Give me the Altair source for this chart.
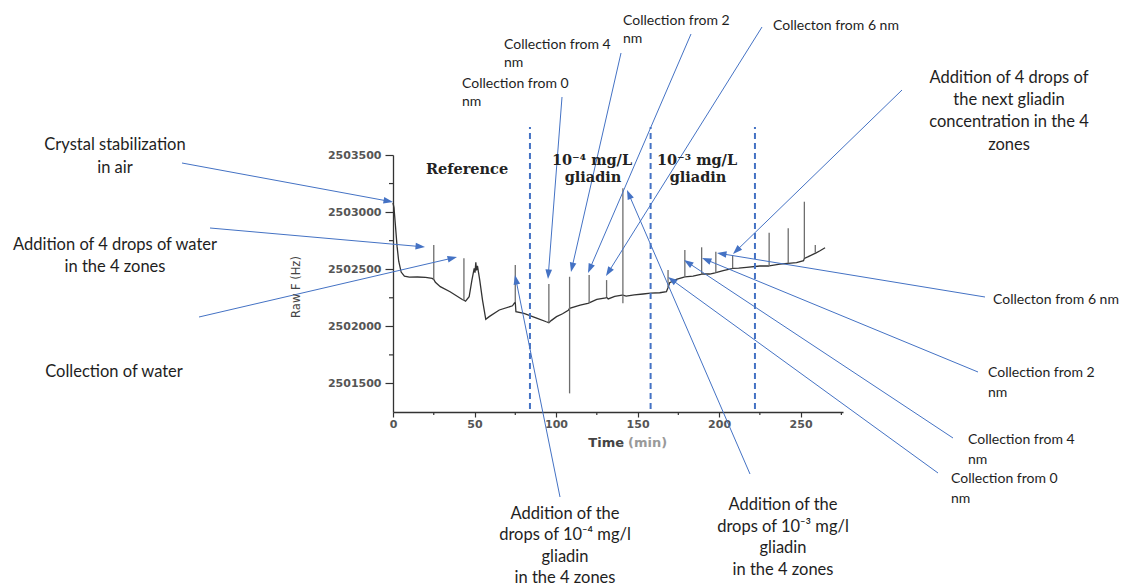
import math
import altair as alt
import pandas as pd

# ---------------- data ----------------
# baseline of the frequency trace (time in min, Raw F in Hz)
base_t = [0, 0.6, 1.5, 2.5, 3.5, 5, 7, 10, 15, 20, 24, 26, 29, 35, 42.5, 44.5, 46.7,
          48.4, 49.8, 50.3, 50.8, 51.2, 51.8, 53.2, 54.9, 56.9, 59, 65.2, 73.3, 74.5,
          75.4, 80.3, 88.5, 94, 97, 100.3, 104, 107.5, 114.8, 119.5, 125, 130.5, 132,
          136, 140.5, 143, 148, 153.4, 158, 163.6, 167.7, 169.7, 173.8, 178.5, 184,
          188.8, 194.3, 197.5, 202.5, 207.8, 212, 216.8, 225, 230.3, 237.3, 242,
          247.5, 251.8, 254.7, 258.5, 261.9, 265]
base_hz = [2503080, 2503040, 2502880, 2502700, 2502570, 2502475, 2502440, 2502430,
           2502432, 2502428, 2502420, 2502385, 2502347, 2502303, 2502235, 2502220,
           2502259, 2502405, 2502508, 2502470, 2502560, 2502490, 2502530, 2502405,
           2502230, 2502061, 2502085, 2502143, 2502180, 2502205, 2502128, 2502114,
           2502070, 2502040, 2502050, 2502085, 2502110, 2502140, 2502186, 2502201,
           2502236, 2502250, 2502240, 2502262, 2502274, 2502265, 2502275, 2502283,
           2502290, 2502294, 2502303, 2502382, 2502411, 2502430, 2502440, 2502455,
           2502458, 2502468, 2502487, 2502505, 2502510, 2502517, 2502528, 2502528,
           2502545, 2502551, 2502557, 2502575, 2502610, 2502637, 2502662, 2502688]

# spikes: time, base of the spike, top, lowest point
spike_t = [25, 43.5, 75, 95.6, 108.3, 120.3, 131, 141, 168.7, 179, 189.3, 198,
           208.3, 230.7, 242.4, 252.3, 259]
spike_base = [2502410, 2502228, 2502210, 2502032, 2502157, 2502205, 2502254, 2502274,
              2502340, 2502434, 2502458, 2502470, 2502508, 2502530, 2502551, 2502595,
              2502639]
spike_top = [2502712, 2502595, 2502537, 2502370, 2502434, 2502449, 2502405, 2503208,
             2502493, 2502668, 2502692, 2502653, 2502624, 2502820, 2502858, 2503091,
             2502712]
spike_low = [2502410, 2502228, 2502210, 2502032, 2501413, 2502205, 2502254, 2502201,
             2502340, 2502434, 2502458, 2502470, 2502508, 2502530, 2502551, 2502595,
             2502639]

zone_bounds = [84, 158, 222]
x_major = [0, 50, 100, 150, 200, 250]
x_minor = [25, 75, 125, 175, 225, 275]
y_major = [2501500, 2502000, 2502500, 2503000, 2503500]
y_minor = [2501750, 2502250, 2502750, 2503250]

in_plot_labels = ["Reference", "10⁻⁴ mg/L", "gliadin", "10⁻³ mg/L", "gliadin"]

# annotation texts (lines) and arrows
ann_center = [
    ["Crystal stabilization", "in air"],
    ["Addition of 4 drops of water", "in the 4 zones"],
    ["Collection of water"],
    ["Addition of 4 drops of", "the next gliadin", "concentration in the 4", "zones"],
    ["Addition of the", "drops of 10⁻⁴ mg/l", "gliadin", "in the 4 zones"],
    ["Addition of the", "drops of 10⁻³ mg/l", "gliadin", "in the 4 zones"],
]
ann_left = [
    ["Collection from 0", "nm"],
    ["Collection from  4", "nm"],
    ["Collection from 2", "nm"],
    ["Collecton from 6 nm"],
    ["Collecton from 6 nm"],
    ["Collection from 2", "nm"],
    ["Collection from  4", "nm"],
    ["Collection from 0", "nm"],
]

# ---------------- layout (page pixels) ----------------
OX, OY = 393, 155          # plot origin on the page
W, H = 450, 257            # plot area
BLUE = "#4472C4"

center_pos = [(115, 145, 22.5), (115, 245, 22), (114, 372, 22), (1009, 78, 22.2),
              (565, 514, 21.3), (783, 505, 21.7)]
left_pos = [(462, 84, 18), (504, 45, 18), (623, 21, 18), (773, 26, 18),
            (993, 300, 18), (988, 373, 19.5), (968, 440, 19.5), (951, 479, 19.5)]
in_plot_pos = [(467, 170), (592, 161), (593, 178), (697, 161), (698, 178)]

arrows = [((182, 163), (393, 202)), ((210, 228), (425, 247)), ((199, 317), (457, 257)),
          ((562, 97), (548, 279)), ((621, 53), (571, 272)), ((691, 34), (588, 273)),
          ((762, 27), (606, 276)), ((902, 90), (733, 254)), ((985, 297), (717, 253)),
          ((978, 372), (702, 258)), ((953, 438), (684, 260)), ((938, 473), (668, 277)),
          ((560, 497), (515, 275)), ((750, 474), (627, 190))]

# ---------------- tables ----------------
pts = sorted(list(zip(base_t, base_hz)) + list(zip(spike_t, spike_base)))
line_df = pd.DataFrame({"t": [p[0] for p in pts], "hz": [p[1] for p in pts],
                        "i": list(range(len(pts)))})
spike_df = pd.DataFrame({"t": spike_t, "top": spike_top, "low": spike_low})
dash_df = pd.DataFrame({"t": zone_bounds, "y1": [2501277] * 3, "y2": [2503745] * 3})

xs = alt.Scale(domain=[0, 276], nice=False, zero=False)
ys = alt.Scale(domain=[2501250, 2503500], nice=False, zero=False)

AX = dict(grid=False, domainColor="#333", domainWidth=1.3, tickColor="#333",
          tickWidth=1.2, labelFont="DejaVu Sans", labelFontWeight="bold",
          labelFontSize=11, labelColor="#555", labelOverlap=False, labelFlush=False,
          title=None)

x_axis = alt.Axis(values=x_major, tickSize=5, labelPadding=1, **AX)
y_axis = alt.Axis(values=y_major, format="d", tickSize=8, labelPadding=4, **AX)

line = alt.Chart(line_df).mark_line(color="#333", strokeWidth=1.3).encode(
    x=alt.X("t:Q", scale=xs, axis=x_axis),
    y=alt.Y("hz:Q", scale=ys, axis=y_axis),
    order="i:Q")
spikes = alt.Chart(spike_df).mark_rule(color="#6e6e6e", strokeWidth=1.3).encode(
    x=alt.X("t:Q", scale=xs),
    y=alt.Y("top:Q", scale=ys), y2="low:Q")
dashes = alt.Chart(dash_df).mark_rule(color=BLUE, strokeWidth=2, strokeDash=[6, 4]).encode(
    x=alt.X("t:Q", scale=xs),
    y=alt.Y("y1:Q", scale=ys), y2="y2:Q")

# minor ticks
ymin_t = alt.Chart(pd.DataFrame({"v": y_minor})).mark_rule(color="#333", strokeWidth=1.2).encode(
    y=alt.Y("v:Q", scale=ys), x=alt.value(-4), x2=alt.value(0))
xmin_t = alt.Chart(pd.DataFrame({"v": x_minor})).mark_rule(color="#333", strokeWidth=1.2).encode(
    x=alt.X("v:Q", scale=xs), y=alt.value(H), y2=alt.value(H + 3))

# arrows in pixel space
HEAD = 90
hl = math.sqrt(HEAD) / 2
rows_l, rows_h = [], []
for (sx, sy), (ex, ey) in arrows:
    dx, dy = ex - sx, ey - sy
    L = math.hypot(dx, dy)
    ux, uy = dx / L, dy / L
    ang = math.degrees(math.atan2(dx, -dy)) % 360
    rows_l.append({"x1": sx - OX, "y1": sy - OY,
                   "x2": ex - ux * hl * 1.5 - OX, "y2": ey - uy * hl * 1.5 - OY})
    rows_h.append({"x": ex - ux * hl - OX, "y": ey - uy * hl - OY, "a": ang})

arrow_lines = alt.Chart(pd.DataFrame(rows_l)).mark_rule(color=BLUE, strokeWidth=1).encode(
    x=alt.X("x1:Q", scale=None), y=alt.Y("y1:Q", scale=None),
    x2="x2:Q", y2="y2:Q")
arrow_heads = alt.Chart(pd.DataFrame(rows_h)).mark_point(
    shape="M0,-1L0.7,1L-0.7,1Z", size=HEAD, filled=True, color=BLUE, opacity=1,
    strokeWidth=0).encode(
    x=alt.X("x:Q", scale=None), y=alt.Y("y:Q", scale=None),
    angle=alt.Angle("a:Q", scale=None))


def text_rows(blocks, pos):
    out = []
    for lines, (px, py, gap) in zip(blocks, pos):
        for k, s in enumerate(lines):
            out.append({"x": px - OX, "y": py + k * gap - OY, "s": s})
    return pd.DataFrame(out)


txt_c = alt.Chart(text_rows(ann_center, center_pos)).mark_text(
    font="Lato", fontSize=16.5, align="center", baseline="middle", color="#1e1e1e").encode(
    x=alt.X("x:Q", scale=None), y=alt.Y("y:Q", scale=None), text="s:N")
txt_l = alt.Chart(text_rows(ann_left, left_pos)).mark_text(
    font="Lato", fontSize=14, align="left", baseline="middle", color="#1e1e1e").encode(
    x=alt.X("x:Q", scale=None), y=alt.Y("y:Q", scale=None), text="s:N")

ip_df = pd.DataFrame({"x": [p[0] - OX for p in in_plot_pos],
                      "y": [p[1] - OY for p in in_plot_pos], "s": in_plot_labels})
txt_ip = alt.Chart(ip_df).mark_text(
    font="DejaVu Serif", fontSize=14.5, fontWeight="bold", align="center",
    baseline="middle", color="#222").encode(
    x=alt.X("x:Q", scale=None), y=alt.Y("y:Q", scale=None), text="s:N")

# axis titles
t_time = alt.Chart(pd.DataFrame({"x": [624 - OX], "y": [443 - OY], "s": ["Time"]})).mark_text(
    font="DejaVu Sans", fontSize=13, fontWeight="bold", align="right", baseline="middle",
    color="#444").encode(x=alt.X("x:Q", scale=None), y=alt.Y("y:Q", scale=None), text="s:N")
t_min = alt.Chart(pd.DataFrame({"x": [628 - OX], "y": [443 - OY], "s": ["(min)"]})).mark_text(
    font="DejaVu Sans", fontSize=13, fontWeight="bold", align="left", baseline="middle",
    color="#9a9a9a").encode(x=alt.X("x:Q", scale=None), y=alt.Y("y:Q", scale=None), text="s:N")
t_raw = alt.Chart(pd.DataFrame({"x": [297 - OX], "y": [287 - OY], "s": ["Raw F (Hz)"]})).mark_text(
    font="DejaVu Sans", fontSize=11.5, align="center", baseline="middle", angle=270,
    color="#444").encode(x=alt.X("x:Q", scale=None), y=alt.Y("y:Q", scale=None), text="s:N")

chart = alt.layer(line, dashes, spikes, ymin_t, xmin_t, arrow_lines, arrow_heads,
                  txt_c, txt_l, txt_ip, t_time, t_min, t_raw).properties(
    width=W, height=H,
    autosize=alt.AutoSizeParams(type="none"),
    padding={"left": OX, "top": OY, "right": 1123 - OX - W, "bottom": 587 - OY - H},
    background="white",
).configure_view(stroke=None)

chart.save("out.html", embed_options={"renderer": "svg", "actions": False})
